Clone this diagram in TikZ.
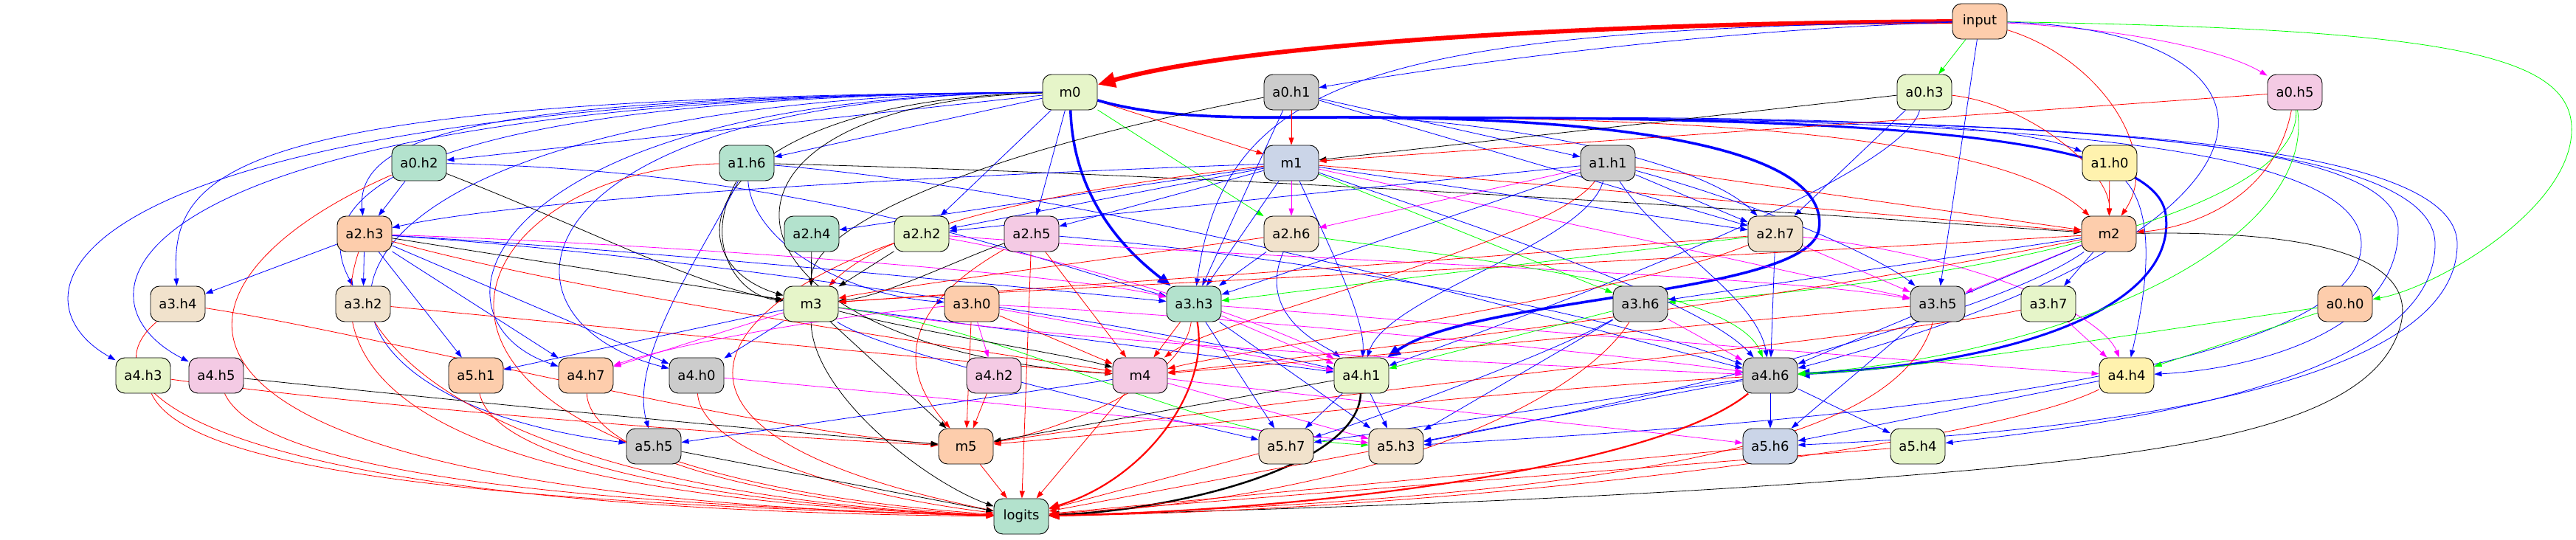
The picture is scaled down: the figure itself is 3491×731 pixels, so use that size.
\documentclass[tikz,border=0pt]{standalone}
\usepackage{fontspec}
\setmainfont{DejaVu Sans}
\usetikzlibrary{arrows.meta}
\pgfdeclarelayer{bg}
\pgfsetlayers{bg,main}
\definecolor{cO}{HTML}{FDCDAC}
\definecolor{cL}{HTML}{E6F5C9}
\definecolor{cG}{HTML}{B3E2CD}
\definecolor{cB}{HTML}{CBD5E8}
\definecolor{cP}{HTML}{F4CAE4}
\definecolor{cY}{HTML}{FFF2AE}
\definecolor{cE}{HTML}{F1E2CC}
\definecolor{cK}{HTML}{CCCCCC}
\definecolor{eB}{rgb}{0,0,1}
\definecolor{eR}{rgb}{1,0,0}
\definecolor{eM}{rgb}{1,0,1}
\definecolor{eG}{rgb}{0,1,0}
\begin{document}
\begin{tikzpicture}[x=1pt,y=1pt,
  nd/.style={draw, line width=0.9pt, rounded corners=12pt, minimum width=74pt, minimum height=48pt, inner sep=0pt, font=\fontsize{18}{20}\selectfont},
  eb/.style={draw=eB, line width=0.8pt, -{Triangle[length=10pt,width=7pt]}},
  er/.style={draw=eR, line width=0.8pt, -{Triangle[length=10pt,width=7pt]}},
  ek/.style={draw=black, line width=0.8pt, -{Triangle[length=10pt,width=7pt]}},
  em/.style={draw=eM, line width=0.8pt, -{Triangle[length=10pt,width=7pt]}},
  eg/.style={draw=eG, line width=0.8pt, -{Triangle[length=10pt,width=7pt]}},
  wtwo/.style={line width=2.2pt, -{Triangle[length=14pt,width=11pt]}},
  wthree/.style={line width=3.5pt, -{Triangle[length=18pt,width=14pt]}},
  wsix/.style={line width=6pt, -{Triangle[length=24pt,width=20pt]}}
]
\useasboundingbox (0,0) rectangle (3491,731);
% nodes
\node[nd, fill=cO] (input) at (2683,702) {input};
\node[nd, fill=cL] (m0) at (1450,606) {m0};
\node[nd, fill=cK] (a0h1) at (1750,606) {a0.h1};
\node[nd, fill=cL] (a0h3) at (2608,606) {a0.h3};
\node[nd, fill=cP] (a0h5) at (3110,606) {a0.h5};
\node[nd, fill=cG] (a0h2) at (568,510) {a0.h2};
\node[nd, fill=cG] (a1h6) at (1012,510) {a1.h6};
\node[nd, fill=cB] (m1) at (1750,510) {m1};
\node[nd, fill=cK] (a1h1) at (2179,510) {a1.h1};
\node[nd, fill=cY] (a1h0) at (2859,510) {a1.h0};
\node[nd, fill=cO] (a2h3) at (494,414) {a2.h3};
\node[nd, fill=cG] (a2h4) at (1100,414) {a2.h4};
\node[nd, fill=cL] (a2h2) at (1249,414) {a2.h2};
\node[nd, fill=cP] (a2h5) at (1398,414) {a2.h5};
\node[nd, fill=cE] (a2h6) at (1750,414) {a2.h6};
\node[nd, fill=cE] (a2h7) at (2406,414) {a2.h7};
\node[nd, fill=cO] (m2) at (2858,414) {m2};
\node[nd, fill=cE] (a3h4) at (241,319) {a3.h4};
\node[nd, fill=cE] (a3h2) at (492,319) {a3.h2};
\node[nd, fill=cL] (m3) at (1099,319) {m3};
\node[nd, fill=cO] (a3h0) at (1317,319) {a3.h0};
\node[nd, fill=cG] (a3h3) at (1618,319) {a3.h3};
\node[nd, fill=cK] (a3h6) at (2223,319) {a3.h6};
\node[nd, fill=cK] (a3h5) at (2626,319) {a3.h5};
\node[nd, fill=cL] (a3h7) at (2776,319) {a3.h7};
\node[nd, fill=cO] (a0h0) at (3178,319) {a0.h0};
\node[nd, fill=cL] (a4h3) at (194,222) {a4.h3};
\node[nd, fill=cP] (a4h5) at (293,222) {a4.h5};
\node[nd, fill=cO] (a5h1) at (645,222) {a5.h1};
\node[nd, fill=cO] (a4h7) at (794,222) {a4.h7};
\node[nd, fill=cK] (a4h0) at (944,222) {a4.h0};
\node[nd, fill=cP] (a4h2) at (1347,222) {a4.h2};
\node[nd, fill=cP] (m4) at (1545,222) {m4};
\node[nd, fill=cL] (a4h1) at (1845,222) {a4.h1};
\node[nd, fill=cK] (a4h6) at (2399,222) {a4.h6};
\node[nd, fill=cY] (a4h4) at (2882,222) {a4.h4};
\node[nd, fill=cK] (a5h5) at (886,126) {a5.h5};
\node[nd, fill=cO] (m5) at (1309,126) {m5};
\node[nd, fill=cE] (a5h7) at (1743,126) {a5.h7};
\node[nd, fill=cE] (a5h3) at (1892,126) {a5.h3};
\node[nd, fill=cB] (a5h6) at (2399,126) {a5.h6};
\node[nd, fill=cL] (a5h4) at (2599,126) {a5.h4};
\node[nd, fill=cG] (logits) at (1384,31) {logits};
\coordinate (bw) at (1820,572);
\begin{pgfonlayer}{bg}
% input
\draw[er, wsix] (input) .. controls (2200,700) and (1700,675) .. (m0);
\draw[eb] (input) .. controls (2300,690) and (1950,640) .. (a0h1);
\draw[eg] (input) -- (a0h3);
\draw[em] (input) .. controls (2900,690) and (3020,660) .. (a0h5);
\draw[er] (input) .. controls (2850,650) and (2930,520) .. (m2);
\draw[eg] (input) .. controls (3300,692) and (3480,660) .. (3485,560) .. controls (3490,450) and (3300,340) .. (a0h0);
\draw[eb] (input) .. controls (1850,690) and (1660,620) .. (a3h3);
\draw[eb] (input) -- (a3h5);
\draw[eb] (input) .. controls (3130,690) and (3150,420) .. (a4h6);
% m0
\draw[eb] (m0) -- (a0h2);
\draw[eb] (m0) -- (a1h6);
\draw[er] (m0) -- (m1);
\draw[eb] (m0) .. controls (1580,568) and (1700,572) .. (bw) .. controls (2300,572) and (2700,575) .. (a1h0);
\draw[eb] (m0) .. controls (700,600) and (480,560) .. (a2h3);
\draw[eb] (m0) -- (a2h2);
\draw[eb] (m0) -- (a2h5);
\draw[eg] (m0) -- (a2h6);
\draw[er] (m0) .. controls (1580,568) and (1700,572) .. (bw) .. controls (2200,572) and (2700,560) .. (m2);
\draw[eb] (m0) .. controls (1580,568) and (1700,572) .. (bw) .. controls (2000,572) and (2300,520) .. (a2h7);
\draw[eb] (m0) .. controls (300,600) and (230,500) .. (a3h4);
\draw[eb] (m0) .. controls (500,600) and (420,450) .. (a3h2);
\draw[ek] (m0) .. controls (950,595) and (900,380) .. (m3);
\draw[eb, wthree] (m0) .. controls (1455,450) and (1540,380) .. (a3h3);
\draw[eb] (m0) .. controls (60,600) and (0,330) .. (a4h3);
\draw[eb] (m0) .. controls (150,600) and (80,330) .. (a4h5);
\draw[eb] (m0) .. controls (650,600) and (560,300) .. (a4h7);
\draw[eb] (m0) .. controls (700,600) and (640,300) .. (a4h0);
\draw[eb] (m0) .. controls (350,600) and (300,200) .. (a5h5);
\draw[ek] (m0) .. controls (900,590) and (950,260) .. (m4);
\draw[eb, wthree] (m0) .. controls (1580,568) and (1700,572) .. (bw) .. controls (2250,572) and (2480,520) .. (2465,420) .. controls (2450,330) and (2000,330) .. (a4h1);
\draw[eb, line width=3pt, -{Triangle[length=16pt,width=13pt]}] (m0) .. controls (1580,568) and (1700,572) .. (bw) .. controls (2450,572) and (2920,560) .. (2935,440) .. controls (2950,320) and (2750,240) .. (a4h6);
\draw[eb] (m0) .. controls (1580,568) and (1700,572) .. (bw) .. controls (2650,572) and (3250,560) .. (3250,420) .. controls (3250,280) and (3050,230) .. (a4h4);
\draw[eb] (m0) .. controls (1580,568) and (1700,572) .. (bw) .. controls (2650,572) and (3300,560) .. (3300,400) .. controls (3300,200) and (2800,150) .. (a5h4);
\draw[eb] (m0) .. controls (1580,568) and (1700,572) .. (bw) .. controls (2650,572) and (3330,560) .. (3330,400) .. controls (3330,180) and (2700,140) .. (a5h6);
\draw[eb] (m0) .. controls (1580,568) and (1700,572) .. (bw) .. controls (2550,572) and (3200,560) .. (3200,400) .. controls (3200,200) and (2300,150) .. (a5h3);
% a0h1
\draw[er] (a0h1) -- (m1);
\draw[eb] (a0h1) -- (a1h1);
\draw[ek] (a0h1) .. controls (1300,520) and (1100,420) .. (m3);
\draw[eb] (a0h1) -- (a3h3);
\draw[eb] (a0h1) -- (a2h7);
% a0h3
\draw[ek] (a0h3) -- (m1);
\draw[er] (a0h3) .. controls (2750,590) and (2860,500) .. (m2);
\draw[eb] (a0h3) -- (a2h7);
\draw[eb] (a0h3) .. controls (2580,500) and (2200,350) .. (a4h1);
% a0h5
\draw[er] (a0h5) -- (m1);
\draw[er] (a0h5) .. controls (3080,450) and (2950,420) .. (m2);
\draw[eg] (a0h5) .. controls (3120,450) and (2700,350) .. (a3h6);
\draw[eg] (a0h5) .. controls (3140,400) and (2800,250) .. (a4h6);
% a0h2
\draw[eb] (a0h2) -- (a2h3);
\draw[ek] (a0h2) .. controls (800,420) and (950,340) .. (m3);
\draw[eb] (a0h2) .. controls (1100,500) and (1400,380) .. (a3h3);
\draw[er] (a0h2) .. controls (200,350) and (100,60) .. (logits);
% a1h6
\draw[ek] (a1h6) .. controls (950,400) and (1000,330) .. (m3);
\draw[eb] (a1h6) .. controls (1020,400) and (1150,330) .. (a3h0);
\draw[ek] (a1h6) .. controls (1800,490) and (2600,430) .. (m2);
\draw[eb] (a1h6) .. controls (960,400) and (850,250) .. (a5h5);
\draw[er] (a1h6) .. controls (600,500) and (420,100) .. (logits);
\draw[eb] (a1h6) .. controls (1500,470) and (2100,300) .. (a4h6);
% m1
\draw[eb] (m1) .. controls (1200,490) and (700,460) .. (a2h3);
\draw[eb] (m1) -- (a2h4);
\draw[eb] (m1) -- (a2h5);
\draw[eb] (m1) -- (a2h2);
\draw[em] (m1) -- (a2h6);
\draw[eb] (m1) -- (a2h7);
\draw[er] (m1) -- (m2);
\draw[er] (m1) .. controls (1400,470) and (1200,420) .. (m3);
\draw[eb] (m1) -- (a3h3);
\draw[eg] (m1) -- (a3h6);
\draw[em] (m1) -- (a3h5);
\draw[eb] (m1) .. controls (1800,400) and (1850,300) .. (a4h1);
\draw[eb] (m1) .. controls (1950,440) and (2300,330) .. (a4h6);
% a1h1
\draw[eb] (a1h1) -- (a2h2);
\draw[em] (a1h1) -- (a2h6);
\draw[eb] (a1h1) -- (a2h7);
\draw[er] (a1h1) -- (m2);
\draw[eb] (a1h1) -- (a3h3);
\draw[er] (a1h1) .. controls (2100,400) and (1650,300) .. (m4);
\draw[eb] (a1h1) .. controls (2400,450) and (2550,380) .. (a3h5);
\draw[eb] (a1h1) .. controls (2150,400) and (1880,330) .. (a4h1);
\draw[eb] (a1h1) .. controls (2250,400) and (2380,330) .. (a4h6);
% a1h0
\draw[er] (a1h0) -- (m2);
\draw[eb] (a1h0) .. controls (2930,430) and (2900,300) .. (a4h4);
% a2h3
\draw[eb] (a2h3) -- (a3h4);
\draw[eb] (a2h3) -- (a3h2);
\draw[ek] (a2h3) -- (m3);
\draw[eb] (a2h3) .. controls (900,390) and (1400,340) .. (a3h3);
\draw[em] (a2h3) .. controls (900,400) and (1450,360) .. (a3h3);
\draw[eb] (a2h3) -- (a5h1);
\draw[eb] (a2h3) -- (a4h7);
\draw[eb] (a2h3) -- (a4h0);
\draw[er] (a2h3) .. controls (440,250) and (500,60) .. (logits);
\draw[eb] (a2h3) .. controls (1000,380) and (1600,280) .. (a4h1);
\draw[er] (a2h3) .. controls (800,330) and (1300,260) .. (m4);
% a2h4, a2h2, a2h5
\draw[ek] (a2h4) -- (m3);
\draw[ek] (a2h2) -- (m3);
\draw[em] (a2h2) .. controls (1500,370) and (1750,280) .. (a4h1);
\draw[em] (a2h2) .. controls (1700,380) and (2400,360) .. (a3h5);
\draw[er] (a2h2) .. controls (1000,330) and (800,150) .. (logits);
\draw[ek] (a2h5) .. controls (1300,380) and (1200,330) .. (m3);
\draw[er] (a2h5) -- (m4);
\draw[er] (a2h5) -- (logits);
\draw[er] (a2h5) .. controls (1250,330) and (1200,250) .. (m5);
\draw[eb] (a2h5) .. controls (1800,380) and (2200,300) .. (a4h6);
% a2h6
\draw[eb] (a2h6) -- (a3h3);
\draw[eb] (a2h6) .. controls (1700,300) and (1800,260) .. (a4h1);
\draw[er] (a2h6) .. controls (1500,380) and (1200,340) .. (m3);
\draw[eg] (a2h6) .. controls (2000,380) and (2350,340) .. (a4h6);
% a2h7
\draw[eg] (a2h7) -- (a3h3);
\draw[er] (a2h7) .. controls (2000,380) and (1400,340) .. (m3);
\draw[em] (a2h7) -- (a3h5);
\draw[em] (a2h7) .. controls (2700,380) and (2850,300) .. (a4h4);
\draw[eb] (a2h7) -- (a4h6);
\draw[er] (a2h7) .. controls (2200,330) and (1700,260) .. (m4);
% m2
\draw[er] (m2) .. controls (2300,380) and (1400,340) .. (m3);
\draw[eb] (m2) -- (a3h6);
\draw[em] (m2) -- (a3h5);
\draw[eb] (m2) -- (a3h7);
\draw[eb] (m2) -- (a4h6);
\draw[er] (m2) .. controls (2400,320) and (1800,250) .. (m4);
\draw[ek] (m2) .. controls (3200,420) and (3280,360) .. (3250,280) .. controls (3200,140) and (2900,110) .. (2500,80) .. controls (2100,50) and (1700,40) .. (logits);
\draw[eb] (m2) .. controls (2700,300) and (2200,180) .. (a5h3);
% rank 4
\draw[er] (a3h4) .. controls (500,280) and (1000,150) .. (m5);
\draw[er] (a3h4) .. controls (100,200) and (300,40) .. (logits);
\draw[er] (a3h2) .. controls (800,290) and (1300,240) .. (m4);
\draw[er] (a3h2) .. controls (600,150) and (900,50) .. (logits);
\draw[eb] (m3) -- (a5h1);
\draw[em] (m3) -- (a4h7);
\draw[eb] (m3) -- (a4h0);
\draw[ek] (m3) -- (m5);
\draw[ek] (m3) .. controls (1100,200) and (1250,80) .. (logits);
\draw[eb] (m3) .. controls (1200,250) and (1600,160) .. (a5h7);
\draw[eb] (m3) -- (a4h1);
\draw[em] (m3) .. controls (1500,260) and (2000,240) .. (a4h6);
\draw[eg] (m3) .. controls (1400,280) and (1600,140) .. (a5h3);
\draw[ek] (m3) .. controls (1250,280) and (1450,250) .. (m4);
\draw[em] (a3h0) -- (a4h2);
\draw[er] (a3h0) -- (m4);
\draw[er] (a3h0) -- (m5);
\draw[em] (a3h0) .. controls (1100,300) and (900,260) .. (a4h7);
\draw[em] (a3h0) -- (a4h1);
\draw[em] (a3h0) .. controls (1700,300) and (2200,250) .. (a4h6);
\draw[er] (a3h3) -- (m4);
\draw[er, wtwo] (a3h3) .. controls (1640,200) and (1550,80) .. (logits);
\draw[er] (a3h3) .. controls (1600,200) and (1400,140) .. (m5);
\draw[em] (a3h3) -- (a4h1);
\draw[eb] (a3h3) -- (a5h7);
\draw[eb] (a3h3) -- (a5h3);
\draw[em] (a3h3) .. controls (2000,290) and (2600,240) .. (a4h4);
\draw[eg] (a3h6) -- (a4h1);
\draw[em] (a3h6) -- (a4h6);
\draw[eb] (a3h6) -- (a5h3);
\draw[er] (a3h6) .. controls (2150,200) and (1900,60) .. (logits);
\draw[eb] (a3h6) .. controls (2100,250) and (1850,160) .. (a5h7);
\draw[eb] (a3h5) -- (a5h6);
\draw[er] (a3h5) .. controls (2580,150) and (2300,60) .. (logits);
\draw[er] (a3h5) .. controls (2400,300) and (2000,260) .. (m4);
\draw[em] (a3h7) -- (a4h4);
\draw[er] (a3h7) .. controls (2600,280) and (1800,200) .. (m5);
\draw[eg] (a0h0) -- (a4h4);
\draw[eg] (a0h0) .. controls (2900,280) and (2600,230) .. (a4h6);
% rank 5
\draw[er] (a4h3) .. controls (500,180) and (1000,140) .. (m5);
\draw[er] (a4h3) .. controls (250,100) and (600,50) .. (logits);
\draw[ek] (a4h5) .. controls (600,190) and (1000,150) .. (m5);
\draw[er] (a4h5) .. controls (350,100) and (700,50) .. (logits);
\draw[er] (a5h1) .. controls (670,100) and (1000,45) .. (logits);
\draw[er] (a4h7) .. controls (800,100) and (1100,45) .. (logits);
\draw[er] (a4h0) .. controls (950,120) and (1150,60) .. (logits);
\draw[em] (a4h0) .. controls (1300,190) and (1700,150) .. (a5h3);
\draw[er] (a4h2) -- (m5);
\draw[eb] (m4) -- (a5h5);
\draw[er] (m4) -- (logits);
\draw[em] (m4) -- (a5h3);
\draw[em] (m4) .. controls (1900,180) and (2200,150) .. (a5h6);
\draw[ek] (a4h1) -- (m5);
\draw[ek, line width=2.5pt, -{Triangle[length=14pt,width=11pt]}] (a4h1) .. controls (1840,100) and (1600,40) .. (logits);
\draw[eb] (a4h1) -- (a5h7);
\draw[eb] (a4h1) -- (a5h3);
\draw[er, wtwo] (a4h6) .. controls (2250,100) and (1800,40) .. (logits);
\draw[eb] (a4h6) -- (a5h6);
\draw[eb] (a4h6) -- (a5h4);
\draw[eb] (a4h6) -- (a5h3);
\draw[eb] (a4h6) -- (a5h7);
\draw[er] (a4h6) .. controls (2000,200) and (1600,150) .. (m5);
\draw[er] (a4h4) .. controls (2700,130) and (2000,40) .. (logits);
\draw[eb] (a4h4) -- (a5h6);
% rank 6
\draw[ek] (a5h5) -- (logits);
\draw[er] (m5) -- (logits);
\draw[er] (a5h7) -- (logits);
\draw[er] (a5h3) -- (logits);
\draw[er] (a5h6) -- (logits);
\draw[er] (a5h4) -- (logits);
\end{pgfonlayer}
\end{tikzpicture}
\end{document}
